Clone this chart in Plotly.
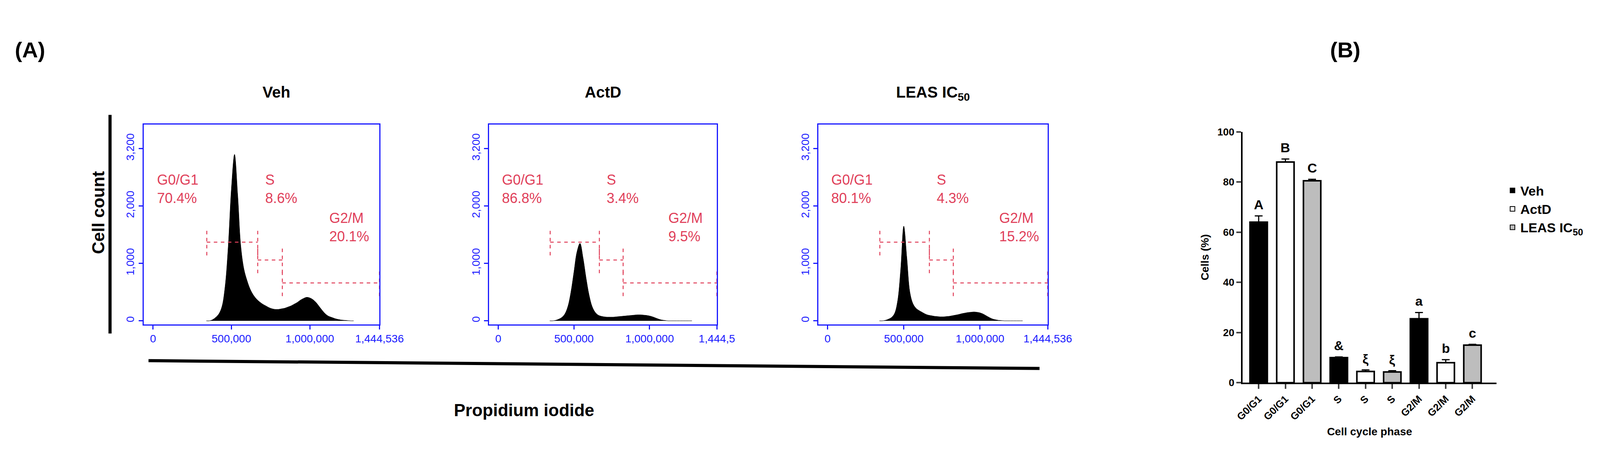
import plotly.graph_objects as go

# ---- histogram data (PI signal bins, counts) ----
bins = [x * 1000 for x in range(340, 1300, 20)]
veh_counts = [0, 0, 20, 60, 120, 250, 600, 1300, 2300, 2900, 2200, 1300, 900, 700, 550, 450, 380, 330,
              290, 260, 230, 210, 200, 200, 210, 220, 240, 260, 290, 320, 360, 390, 410, 400, 370, 320,
              250, 180, 120, 80, 60, 40, 25, 15, 10, 5, 0, 0]
actd_counts = [0, 0, 10, 30, 60, 120, 250, 500, 850, 1200, 1350, 1100, 750, 450, 250, 150, 100, 80,
               70, 65, 65, 65, 70, 75, 80, 85, 90, 95, 100, 105, 105, 100, 95, 85, 70, 50,
               30, 15, 8, 0, 0, 0, 0, 0, 0, 0, 0, 0]
leas_counts = [0, 0, 10, 30, 60, 130, 350, 900, 1650, 1100, 500, 300, 220, 180, 150, 120, 100, 90,
               80, 75, 70, 70, 75, 80, 90, 100, 110, 125, 135, 145, 150, 155, 150, 140, 120, 90,
               60, 35, 20, 10, 5, 0, 0, 0, 0, 0, 0, 0]

panel_titles = ["<b>Veh</b>", "<b>ActD</b>", "<b>LEAS IC<sub>50</sub></b>"]
g1_pct = ["70.4%", "86.8%", "80.1%"]
s_pct = ["8.6%", "3.4%", "4.3%"]
g2_pct = ["20.1%", "9.5%", "15.2%"]
xmax_labels = ["1,444,536", "1,444,5", "1,444,536"]

# ---- bar data (panel B) ----
bar_labels = ["G0/G1", "G0/G1", "G0/G1", "S", "S", "S", "G2/M", "G2/M", "G2/M"]
veh_vals = [64.0, 10.0, 25.5]
veh_err = [2.5, 0.3, 2.5]
actd_vals = [88.0, 4.5, 8.0]
actd_err = [1.2, 0.6, 1.2]
leas_vals = [80.5, 4.3, 15.0]
leas_err = [0.6, 0.5, 0.3]
letters = ["A", "B", "C", "&", "ξ", "ξ", "a", "b", "c"]

PINK = "#e0405a"
BLUE = "#1a1aff"
FONT = "Liberation Sans"

fig = go.Figure()
domains = [(0.081, 0.225), (0.292, 0.431), (0.493, 0.633)]
for i, counts in enumerate([veh_counts, actd_counts, leas_counts]):
    xa = "x" if i == 0 else f"x{i+1}"
    ya = "y" if i == 0 else f"y{i+1}"
    fig.add_trace(go.Scatter(x=bins, y=counts, mode="lines", fill="tozeroy",
                             line=dict(color="black", width=1, shape="spline"),
                             fillcolor="black", xaxis=xa, yaxis=ya, showlegend=False))
    # gates
    gates = [(343000, 668000, 1370), (668000, 825000, 1060), (825000, 1444536, 660)]
    for (g0, g1, gy) in gates:
        fig.add_trace(go.Scatter(x=[g0, g1], y=[gy, gy], mode="lines",
                                 line=dict(color=PINK, width=2.5, dash="dash"),
                                 xaxis=xa, yaxis=ya, showlegend=False))
        for gx in (g0, g1):
            fig.add_trace(go.Scatter(x=[gx, gx], y=[gy - 230, gy + 230], mode="lines",
                                     line=dict(color=PINK, width=2.5, dash="dash"),
                                     xaxis=xa, yaxis=ya, showlegend=False))
    ax = dict(domain=list(domains[i]), range=[-60000, 1444536], tickvals=[0, 500000, 1000000, 1444536],
              ticktext=["0", "500,000", "1,000,000", xmax_labels[i]], showline=True, mirror=True,
              linecolor=BLUE, linewidth=3, ticks="outside", tickcolor=BLUE, ticklen=10, tickwidth=3,
              tickfont=dict(color=BLUE, size=28, family=FONT), showgrid=False, zeroline=False,
              anchor=ya)
    ay = dict(domain=[0.315, 0.749], range=[-60, 3420], tickvals=[0, 1000, 2000, 3000],
              ticktext=["0", "1,000", "2,000", "3,200"], tickangle=-90, showline=True, mirror=True,
              linecolor=BLUE, linewidth=3, ticks="outside", tickcolor=BLUE, ticklen=10, tickwidth=3,
              tickfont=dict(color=BLUE, size=28, family=FONT), showgrid=False, zeroline=False,
              anchor=xa)
    fig.layout["xaxis" if i == 0 else f"xaxis{i+1}"] = ax
    fig.layout["yaxis" if i == 0 else f"yaxis{i+1}"] = ay
    for tx, ty, txt in [(20000, 2300, "G0/G1<br>" + g1_pct[i]), (710000, 2300, "S<br>" + s_pct[i]),
                        (1120000, 1630, "G2/M<br>" + g2_pct[i])]:
        fig.add_annotation(x=tx, y=ty, xref=xa, yref=ya, text=txt, showarrow=False, xanchor="left",
                           align="left", font=dict(color=PINK, size=36, family=FONT))
    fig.add_annotation(x=sum(domains[i]) / 2, y=0.84, xref="paper", yref="paper", text=panel_titles[i],
                       showarrow=False, font=dict(size=40, family=FONT, color="black"))

# ---- panel B ----
for name, vals, err, color, offs in [("Veh", veh_vals, veh_err, "black", 0),
                                     ("ActD", actd_vals, actd_err, "white", 1),
                                     ("LEAS IC<sub>50</sub>", leas_vals, leas_err, "#bdbdbd", 2)]:
    fig.add_trace(go.Bar(x=[offs + 3 * k for k in range(3)], y=vals, name="<b>" + name + "</b>",
                         marker=dict(color=color, line=dict(color="black", width=4)), width=0.65,
                         error_y=dict(type="data", array=err, arrayminus=[0, 0, 0], color="black",
                                      thickness=3, width=10),
                         xaxis="x4", yaxis="y4"))
all_vals = [None] * 9
all_err = [None] * 9
for offs, vals, err in [(0, veh_vals, veh_err), (1, actd_vals, actd_err), (2, leas_vals, leas_err)]:
    for k in range(3):
        all_vals[offs + 3 * k] = vals[k]
        all_err[offs + 3 * k] = err[k]
for j in range(9):
    fig.add_annotation(x=j, y=all_vals[j] + all_err[j], xref="x4", yref="y4", text="<b>" + letters[j] + "</b>",
                       showarrow=False, yanchor="bottom", yshift=8, font=dict(size=34, family=FONT))

fig.layout.xaxis4 = dict(domain=[0.752, 0.907], range=[-0.6, 8.9], tickvals=list(range(9)),
                         ticktext=["<b>" + t + "</b>" for t in bar_labels], tickangle=-45,
                         showline=True, linecolor="black", linewidth=4, ticks="outside", ticklen=12,
                         tickwidth=4, tickfont=dict(size=26, family=FONT), showgrid=False, zeroline=False,
                         title=dict(text="<b>Cell cycle phase</b>", font=dict(size=28, family=FONT)),
                         anchor="y4")
fig.layout.yaxis4 = dict(domain=[0.188, 0.733], range=[0, 100], tickvals=[0, 20, 40, 60, 80, 100],
                         ticktext=["<b>%d</b>" % v for v in [0, 20, 40, 60, 80, 100]],
                         showline=True, linecolor="black", linewidth=4, ticks="outside", ticklen=12,
                         tickwidth=4, tickfont=dict(size=26, family=FONT), showgrid=False, zeroline=False,
                         title=dict(text="<b>Cells (%)</b>", font=dict(size=28, family=FONT)),
                         anchor="x4")

# ---- decorations ----
fig.add_shape(type="line", xref="paper", yref="paper", x0=0.0605, x1=0.0605, y0=0.295, y1=0.770,
              line=dict(color="black", width=8))
fig.add_shape(type="line", xref="paper", yref="paper", x0=0.084, x1=0.628, y0=0.236, y1=0.219,
              line=dict(color="black", width=8))
fig.add_annotation(x=0.047, y=0.558, xref="paper", yref="paper", text="<b>Cell count</b>", textangle=-90,
                   showarrow=False, font=dict(size=44, family=FONT))
fig.add_annotation(x=0.270, y=0.106, xref="paper", yref="paper", text="<b>Propidium iodide</b>",
                   showarrow=False, font=dict(size=44, family=FONT))
fig.add_annotation(x=0.002, y=0.94, xref="paper", yref="paper", text="<b>(A)</b>", xanchor="left",
                   showarrow=False, font=dict(size=56, family=FONT))
fig.add_annotation(x=0.805, y=0.94, xref="paper", yref="paper", text="<b>(B)</b>", xanchor="left",
                   showarrow=False, font=dict(size=56, family=FONT))

fig.update_layout(width=4275, height=1209, margin=dict(l=0, r=0, t=0, b=0),
                  plot_bgcolor="white", paper_bgcolor="white", barmode="overlay",
                  font=dict(family=FONT, color="black"),
                  legend=dict(x=0.912, y=0.63, xanchor="left", yanchor="top", itemsizing="constant",
                              font=dict(size=34, family=FONT), tracegroupgap=6))
fig.write_html("out.html")
